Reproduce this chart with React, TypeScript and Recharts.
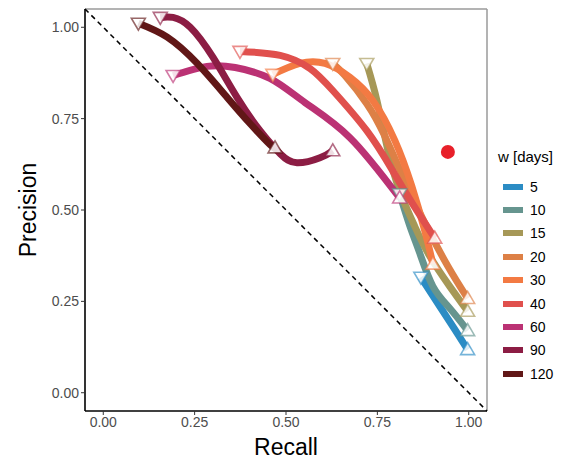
import React from 'react';
import {
  ComposedChart, Line, Scatter, XAxis, YAxis, ReferenceLine,
} from 'recharts';

const windows = ['5', '10', '15', '20', '30', '40', '60', '90', '120'];
const colors = ['#2b8cc4', '#66958f', '#a69857', '#dd8046', '#f37a43', '#e0504d', '#bb3274', '#8c1d44', '#611717'];

// [recall, precision] pairs per window
const s5: number[][] = [[0.869, 0.316], [0.921, 0.236], [0.962, 0.173], [0.997, 0.118]];
const s10: number[][] = [[0.811, 0.544], [0.839, 0.456], [0.866, 0.382], [0.902, 0.291], [0.948, 0.231], [0.997, 0.170]];
const s15: number[][] = [[0.721, 0.901], [0.749, 0.799], [0.779, 0.662], [0.811, 0.552], [0.852, 0.456], [0.893, 0.374], [0.948, 0.291], [0.997, 0.223]];
const s20: number[][] = [[0.628, 0.901], [0.661, 0.868], [0.721, 0.791], [0.770, 0.703], [0.825, 0.580], [0.880, 0.464], [0.943, 0.346], [0.997, 0.258]];
const s30: number[][] = [[0.464, 0.871], [0.538, 0.901], [0.607, 0.901], [0.675, 0.863], [0.738, 0.799], [0.798, 0.690], [0.844, 0.566], [0.880, 0.442], [0.902, 0.352]];
const s40: number[][] = [[0.374, 0.934], [0.484, 0.923], [0.566, 0.887], [0.628, 0.827], [0.721, 0.717], [0.792, 0.607], [0.847, 0.516], [0.907, 0.423]];
const s60: number[][] = [[0.191, 0.868], [0.284, 0.893], [0.361, 0.890], [0.456, 0.860], [0.552, 0.794], [0.675, 0.698], [0.811, 0.533]];
const s90: number[][] = [[0.156, 1.027], [0.191, 1.027], [0.238, 1.0], [0.30, 0.918], [0.366, 0.808], [0.429, 0.717], [0.484, 0.654], [0.530, 0.629], [0.593, 0.643], [0.628, 0.662]];
const s120: number[][] = [[0.096, 1.011], [0.175, 0.973], [0.257, 0.901], [0.339, 0.808], [0.402, 0.736], [0.456, 0.679], [0.470, 0.670]];

const seriesValues = [s5, s10, s15, s20, s30, s40, s60, s90, s120];
const bestPoint = [{ r: 0.943, p: 0.659 }];
const ticks = [0, 0.25, 0.5, 0.75, 1];

const series = seriesValues.map((vals, i) => ({
  name: windows[i],
  color: colors[i],
  data: vals.map(([r, p]) => ({ r, p })),
  ends: [
    { r: vals[0][0], p: vals[0][1], kind: 'down' },
    { r: vals[vals.length - 1][0], p: vals[vals.length - 1][1], kind: 'up' },
  ],
}));

const FONT = '"Liberation Sans", Arial, Helvetica, sans-serif';

const makeTriangle = (color: string) => (props: any) => {
  const { cx, cy, payload } = props;
  if (cx == null || cy == null) return null;
  const w = 7;
  const pts = payload.kind === 'down'
    ? `${cx - w},${cy - 5} ${cx + w},${cy - 5} ${cx},${cy + 7}`
    : `${cx - w},${cy + 5} ${cx + w},${cy + 5} ${cx},${cy - 7}`;
  return <polygon points={pts} fill="#ffffff" fillOpacity={0.85} stroke={color} strokeOpacity={0.65} strokeWidth={1.6} />;
};

const LegendBox = () => (
  <div style={{ position: 'absolute', left: 498, top: 148, fontFamily: FONT, color: '#000' }}>
    <div style={{ fontSize: 15, marginBottom: 10, whiteSpace: 'nowrap' }}>w [days]</div>
    {series.map((s) => (
      <div key={s.name} style={{ display: 'flex', alignItems: 'center', height: 23.4 }}>
        <div style={{ width: 20, height: 6, background: s.color, marginLeft: 5, marginRight: 7 }} />
        <span style={{ fontSize: 14 }}>{s.name}</span>
      </div>
    ))}
  </div>
);

export default function App() {
  return (
    <div style={{ position: 'absolute', left: 0, top: 0, width: 578, height: 461, background: '#fff' }}>
      <ComposedChart width={578} height={461} margin={{ top: 9, right: 91, left: 0, bottom: 0 }}>
        <XAxis
          type="number"
          dataKey="r"
          domain={[-0.05, 1.05]}
          ticks={ticks}
          allowDataOverflow
          tickFormatter={(v: number) => v.toFixed(2)}
          height={50}
          axisLine={{ stroke: '#000', strokeWidth: 1.6 }}
          tickLine={{ stroke: '#333' }}
          tickSize={4}
          tick={{ fontSize: 14, fill: '#4d4d4d', fontFamily: FONT }}
          label={{ value: 'Recall', position: 'insideBottom', offset: 6, fontSize: 23, fill: '#000', fontFamily: FONT }}
        />
        <YAxis
          type="number"
          dataKey="p"
          domain={[-0.05, 1.05]}
          ticks={ticks}
          allowDataOverflow
          tickFormatter={(v: number) => v.toFixed(2)}
          width={85}
          axisLine={{ stroke: '#000', strokeWidth: 1.6 }}
          tickLine={{ stroke: '#333' }}
          tickSize={4}
          tick={{ fontSize: 14, fill: '#4d4d4d', fontFamily: FONT }}
          label={{ value: 'Precision', angle: -90, position: 'insideLeft', offset: 28, fontSize: 23, fill: '#000', fontFamily: FONT, style: { textAnchor: 'middle' } }}
        />
        <ReferenceLine y={1.05} stroke="#9a9a9a" strokeWidth={1.5} />
        <ReferenceLine x={1.05} stroke="#9a9a9a" strokeWidth={1.5} />
        <ReferenceLine
          segment={[{ x: -0.05, y: 1.05 }, { x: 1.05, y: -0.05 }]}
          stroke="#000"
          strokeWidth={1.5}
          strokeDasharray="5 4"
        />
        {series.map((s) => (
          <Line
            key={'l' + s.name}
            data={s.data}
            dataKey="p"
            type="natural"
            stroke={s.color}
            strokeWidth={7}
            dot={false}
            activeDot={false}
            isAnimationActive={false}
            legendType="none"
          />
        ))}
        {series.map((s) => (
          <Scatter
            key={'t' + s.name}
            data={s.ends}
            dataKey="p"
            shape={makeTriangle(s.color)}
            isAnimationActive={false}
            legendType="none"
          />
        ))}
        <Scatter data={bestPoint} dataKey="p" fill="#e8202a" shape={(p: any) => <circle cx={p.cx} cy={p.cy} r={7} fill="#e8202a" />} isAnimationActive={false} legendType="none" />
      </ComposedChart>
      <LegendBox />
    </div>
  );
}
